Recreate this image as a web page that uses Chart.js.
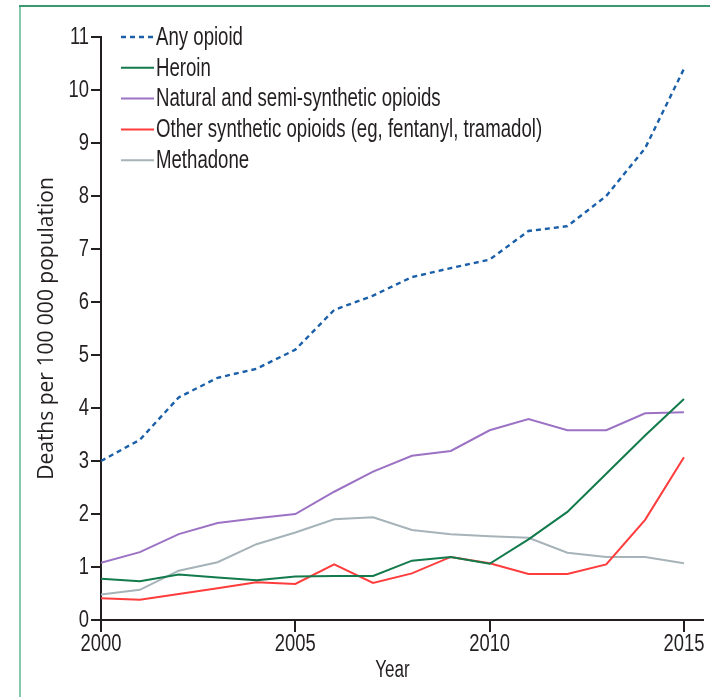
<!DOCTYPE html>
<html>
<head>
<meta charset="utf-8">
<script src="https://cdn.jsdelivr.net/npm/chart.js@4.4.1/dist/chart.umd.min.js"></script>
<style>
  html, body { margin: 0; padding: 0; background: #ffffff; }
  #wrap { position: relative; width: 710px; height: 697px; }
</style>
</head>
<body>
<div id="wrap"><canvas id="c" width="710" height="697"></canvas></div>
<script>
// Opioid overdose death rates, USA, per 100 000 population
const years = [2000, 2001, 2002, 2003, 2004, 2005, 2006, 2007, 2008, 2009, 2010, 2011, 2012, 2013, 2014, 2015];
const anyOpioid = [3.0, 3.4, 4.2, 4.57, 4.74, 5.1, 5.85, 6.12, 6.47, 6.64, 6.8, 7.34, 7.43, 8.0, 8.9, 10.4];
const heroin = [0.78, 0.73, 0.86, 0.8, 0.75, 0.82, 0.83, 0.83, 1.12, 1.19, 1.06, 1.52, 2.04, 2.76, 3.48, 4.17];
const naturalSemi = [1.08, 1.28, 1.62, 1.83, 1.92, 2.0, 2.42, 2.8, 3.1, 3.19, 3.58, 3.79, 3.58, 3.58, 3.9, 3.92];
const otherSynthetic = [0.41, 0.38, 0.49, 0.6, 0.71, 0.68, 1.05, 0.7, 0.88, 1.19, 1.07, 0.87, 0.87, 1.05, 1.89, 3.07];
const methadone = [0.48, 0.57, 0.93, 1.09, 1.43, 1.65, 1.9, 1.94, 1.7, 1.62, 1.58, 1.55, 1.27, 1.19, 1.19, 1.07];

const seriesNames = [
  'Any opioid',
  'Heroin',
  'Natural and semi-synthetic opioids',
  'Other synthetic opioids (eg, fentanyl, tramadol)',
  'Methadone'
];
const xTicks = [2000, 2005, 2010, 2015];
const yTicks = [0, 1, 2, 3, 4, 5, 6, 7, 8, 9, 10, 11];
const yTitle = 'Deaths per 100 000 population';
const xTitle = 'Year';

const INK = '#231f20';
const SANS = '"Liberation Sans", Arial, sans-serif';

const toPoints = vals => years.map((yr, i) => ({ x: yr, y: vals[i] }));

function line(label, vals, color, dash, width) {
  return {
    label: label,
    data: toPoints(vals),
    borderColor: color,
    backgroundColor: color,
    borderWidth: width,
    borderDash: dash,
    pointRadius: 0,
    pointHoverRadius: 0,
    tension: 0,
    fill: false
  };
}

// Condensed text: a regular sans face squeezed horizontally
function narrowText(ctx, text, x, y, size, squeeze, align, baseline) {
  ctx.save();
  ctx.translate(x, y);
  ctx.scale(squeeze, 1);
  ctx.fillStyle = INK;
  ctx.font = size + 'px ' + SANS;
  ctx.textAlign = align;
  ctx.textBaseline = baseline;
  ctx.fillText(text, 0, 0);
  ctx.restore();
}

// Frame lines, tick labels, inline legend and x-axis title
const decorations = {
  id: 'decorations',
  beforeDraw(chart) {
    const ctx = chart.ctx;
    ctx.save();
    ctx.lineWidth = 2;
    ctx.strokeStyle = '#88c8aa';
    ctx.beginPath();
    ctx.moveTo(20, 6);
    ctx.lineTo(20, 697);
    ctx.stroke();
    ctx.strokeStyle = '#3b9a70';
    ctx.beginPath();
    ctx.moveTo(19, 6);
    ctx.lineTo(710, 6);
    ctx.stroke();
    ctx.restore();
  },
  afterDraw(chart) {
    const ctx = chart.ctx;
    const xs = chart.scales.x;
    const ys = chart.scales.y;

    // tick labels
    xs.ticks.forEach(t => {
      narrowText(ctx, String(t.value), xs.getPixelForValue(t.value), 645, 23, 0.8, 'center', 'middle');
    });
    ys.ticks.forEach(t => {
      narrowText(ctx, String(t.value), 89, ys.getPixelForValue(t.value) + 1, 23, 0.8, 'right', 'middle');
    });

    // legend
    chart.data.datasets.forEach((ds, i) => {
      const y = 37 + i * 30.8;
      ctx.save();
      ctx.beginPath();
      ctx.strokeStyle = ds.borderColor;
      ctx.lineWidth = ds.borderWidth;
      ctx.setLineDash(ds.borderDash || []);
      ctx.moveTo(121, y);
      ctx.lineTo(154, y);
      ctx.stroke();
      ctx.restore();
      narrowText(ctx, ds.label, 156, y + 1, 25, 0.745, 'left', 'middle');
    });

    // x-axis title, centred on the year range
    const cx = (xs.getPixelForValue(years[0]) + xs.getPixelForValue(years[years.length - 1])) / 2;
    narrowText(ctx, xTitle, cx, 671, 23, 0.74, 'center', 'middle');
  }
};

new Chart(document.getElementById('c'), {
  type: 'line',
  data: {
    datasets: [
      line(seriesNames[0], anyOpioid, '#1a5fa8', [5, 4], 2.4),
      line(seriesNames[1], heroin, '#127a4b', [], 2),
      line(seriesNames[2], naturalSemi, '#9c72c4', [], 2),
      line(seriesNames[3], otherSynthetic, '#ff3c3c', [], 2),
      line(seriesNames[4], methadone, '#a6b3b8', [], 2)
    ]
  },
  options: {
    responsive: false,
    devicePixelRatio: 1,
    animation: false,
    events: [],
    layout: { padding: { left: 0, right: 7, top: 37, bottom: 0 } },
    plugins: {
      legend: { display: false },
      title: { display: false },
      tooltip: { enabled: false }
    },
    scales: {
      x: {
        type: 'linear',
        min: 2000,
        max: 2015.49,
        afterBuildTicks: s => { s.ticks = xTicks.map(v => ({ value: v })); },
        afterFit: s => { s.height = 77; s.paddingLeft = 0; s.paddingRight = 0; },
        ticks: { display: false },
        grid: {
          drawOnChartArea: false,
          drawTicks: true,
          tickLength: 12,
          color: INK,
          lineWidth: 2
        },
        border: { display: true, color: INK, width: 2 }
      },
      y: {
        min: 0,
        max: 11,
        afterBuildTicks: s => { s.ticks = yTicks.map(v => ({ value: v })); },
        afterFit: s => { s.width = 101; s.paddingTop = 0; s.paddingBottom = 0; },
        ticks: { display: false },
        grid: {
          drawOnChartArea: false,
          drawTicks: true,
          tickLength: 10,
          color: INK,
          lineWidth: 2
        },
        border: { display: true, color: INK, width: 2 },
        title: {
          display: true,
          text: yTitle,
          color: INK,
          font: { family: '"Open Sans", sans-serif', size: 21 },
          padding: { top: 34, bottom: 0 }
        }
      }
    }
  },
  plugins: [decorations]
});
</script>
</body>
</html>
